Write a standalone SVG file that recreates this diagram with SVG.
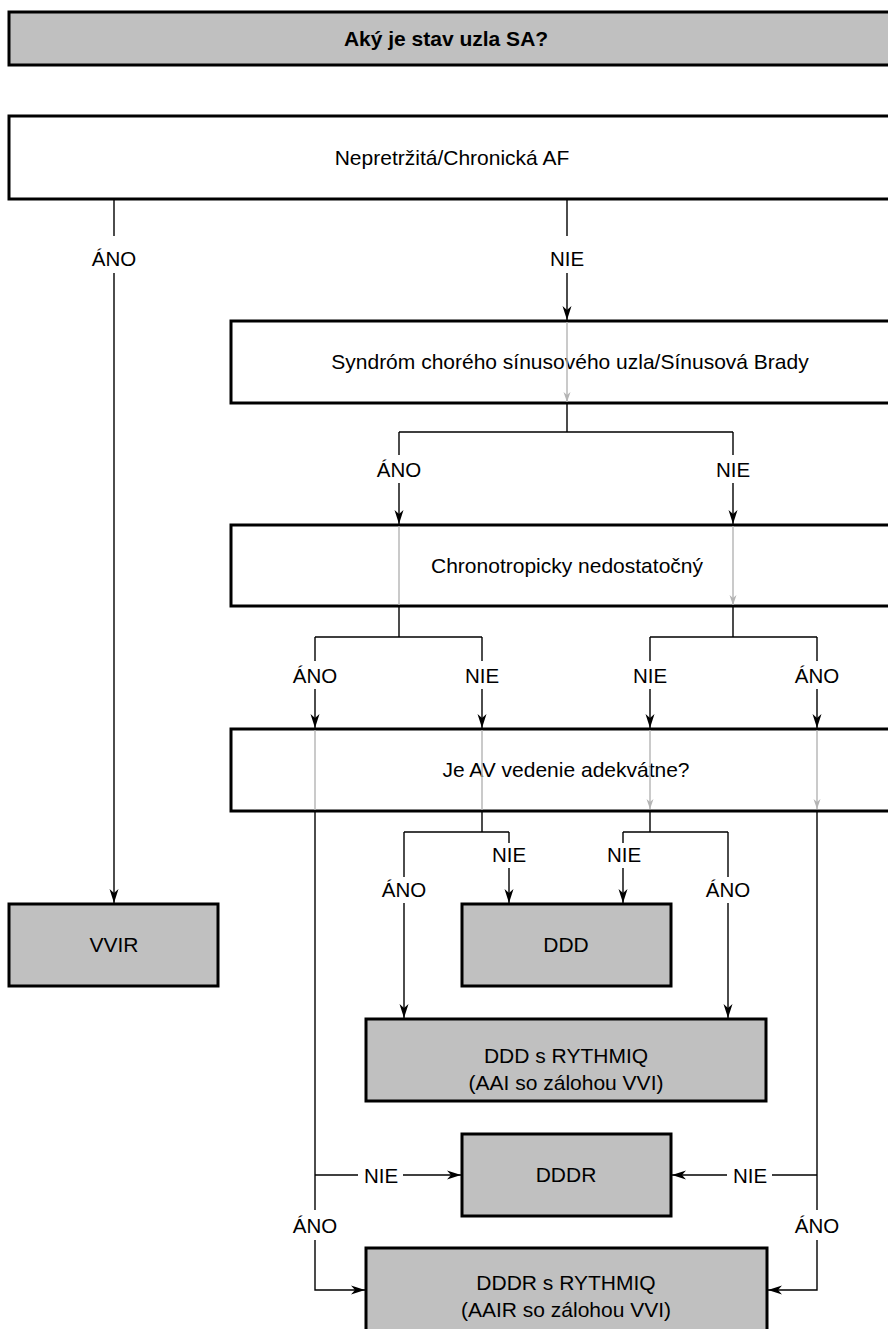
<svg xmlns="http://www.w3.org/2000/svg" width="888" height="1329" viewBox="0 0 888 1329">
<defs>
<marker id="ah" markerUnits="userSpaceOnUse" markerWidth="16" markerHeight="12" viewBox="-15 -6 16 12" refX="0" refY="0" orient="auto">
<path d="M0,0 L-14,-4.5 L-10,0 L-14,4.5 Z" fill="#000"/>
</marker>
<marker id="ahg" markerUnits="userSpaceOnUse" markerWidth="12" markerHeight="10" viewBox="-11 -5 12 10" refX="0" refY="0" orient="auto">
<path d="M0,0 L-10,-3.5 L-7,0 L-10,3.5 Z" fill="#b4b4b4"/>
</marker>
<style>
.box{stroke:#000;stroke-width:3}
.w{fill:#fff}
.g{fill:#c0c0c0}
.t{font-family:"Liberation Sans",Arial,sans-serif;font-size:21px;fill:#000;text-anchor:middle}
.b{font-weight:bold}
.lb{font-family:"Liberation Sans",Arial,sans-serif;font-size:20.5px;fill:#000;text-anchor:middle}
.c{stroke:#000;stroke-width:1.4;fill:none}
.a{marker-end:url(#ah)}
.gl{stroke:#b4b4b4;stroke-width:1.4;fill:none}
.ga{marker-end:url(#ahg)}
</style>
</defs>
<g id="n_title"><rect class="box g" x="9" y="12" width="900" height="53"/><text class="t b" x="446" y="46">Aký je stav uzla SA?</text></g>
<g id="n_af"><rect class="box w" x="9" y="116" width="900" height="83"/><text class="t" x="452" y="165">Nepretržitá/Chronická AF</text></g>
<g id="n_sss"><rect class="box w" x="231" y="321" width="680" height="82"/><text class="t" x="570" y="369">Syndróm chorého sínusového uzla/Sínusová Brady</text></g>
<g id="n_chrono"><rect class="box w" x="231" y="525" width="680" height="81"/><text class="t" x="567" y="573">Chronotropicky nedostatočný</text></g>
<g id="n_av"><rect class="box w" x="231" y="729" width="680" height="82"/><text class="t" x="566" y="777">Je AV vedenie adekvátne?</text></g>
<g id="n_vvir"><rect class="box g" x="9" y="904" width="209" height="82"/><text class="t" x="114" y="952">VVIR</text></g>
<g id="n_ddd"><rect class="box g" x="462" y="904" width="209" height="82"/><text class="t" x="566" y="952">DDD</text></g>
<g id="n_dddr_q"><rect class="box g" x="366" y="1019" width="400" height="82"/><text class="t" x="566" y="1063">DDD s RYTHMIQ</text><text class="t" x="566" y="1090">(AAI so zálohou VVI)</text></g>
<g id="n_dddr"><rect class="box g" x="462" y="1134" width="209" height="82"/><text class="t" x="566" y="1182">DDDR</text></g>
<g id="n_dddrq"><rect class="box g" x="366" y="1248" width="401" height="100"/><text class="t" x="566" y="1290">DDDR s RYTHMIQ</text><text class="t" x="566" y="1317">(AAIR so zálohou VVI)</text></g>
<g id="hidden">
<line class="gl ga" x1="567" y1="322" x2="567" y2="402"/>
<line class="gl" x1="399" y1="526" x2="399" y2="605"/>
<line class="gl ga" x1="733" y1="526" x2="733" y2="605"/>
<line class="gl" x1="315" y1="730" x2="315" y2="810"/>
<line class="gl" x1="482" y1="730" x2="482" y2="810"/>
<line class="gl ga" x1="650" y1="730" x2="650" y2="809"/>
<line class="gl ga" x1="817" y1="730" x2="817" y2="809"/>
</g>
<g id="connectors">
<path class="c" d="M114,200 V236"/><path class="c a" d="M114,273 V903"/>
<path class="c" d="M567,200 V236"/><path class="c a" d="M567,273 V320"/>
<path class="c" d="M567,403 V432 M399,432 H733"/>
<path class="c" d="M399,432 V455"/><path class="c a" d="M399,483 V524"/>
<path class="c" d="M733,432 V455"/><path class="c a" d="M733,483 V524"/>
<path class="c" d="M399,606 V637 M315,637 H482 M733,606 V637 M650,637 H817"/>
<path class="c" d="M315,637 V661"/><path class="c a" d="M315,689 V728"/>
<path class="c" d="M482,637 V661"/><path class="c a" d="M482,689 V728"/>
<path class="c" d="M650,637 V661"/><path class="c a" d="M650,689 V728"/>
<path class="c" d="M817,637 V661"/><path class="c a" d="M817,689 V728"/>
<path class="c" d="M482,811 V832 M404,832 H509 M650,811 V832 M623,832 H728"/>
<path class="c" d="M509,832 V843"/><path class="c a" d="M509,868 V903"/>
<path class="c" d="M623,832 V843"/><path class="c a" d="M623,868 V903"/>
<path class="c" d="M404,832 V877"/><path class="c a" d="M404,903 V1018"/>
<path class="c" d="M728,832 V877"/><path class="c a" d="M728,903 V1018"/>
<path class="c" d="M315,811 V1210"/><path class="c a" d="M315,1240 V1290 H365"/>
<path class="c" d="M315,1175 H358"/><path class="c a" d="M403,1175 H461"/>
<path class="c" d="M817,811 V1210"/><path class="c a" d="M817,1240 V1290 H768"/>
<path class="c" d="M817,1175 H772"/><path class="c a" d="M727,1175 H672"/>
</g>
<g id="labels">
<text class="lb" x="114" y="266">ÁNO</text>
<text class="lb" x="567" y="266">NIE</text>
<text class="lb" x="399" y="477">ÁNO</text>
<text class="lb" x="733" y="477">NIE</text>
<text class="lb" x="315" y="683">ÁNO</text>
<text class="lb" x="482" y="683">NIE</text>
<text class="lb" x="650" y="683">NIE</text>
<text class="lb" x="817" y="683">ÁNO</text>
<text class="lb" x="509" y="862">NIE</text>
<text class="lb" x="624" y="862">NIE</text>
<text class="lb" x="404" y="897">ÁNO</text>
<text class="lb" x="728" y="897">ÁNO</text>
<text class="lb" x="381" y="1183">NIE</text>
<text class="lb" x="750" y="1183">NIE</text>
<text class="lb" x="315" y="1233">ÁNO</text>
<text class="lb" x="817" y="1233">ÁNO</text>
</g>
</svg>
